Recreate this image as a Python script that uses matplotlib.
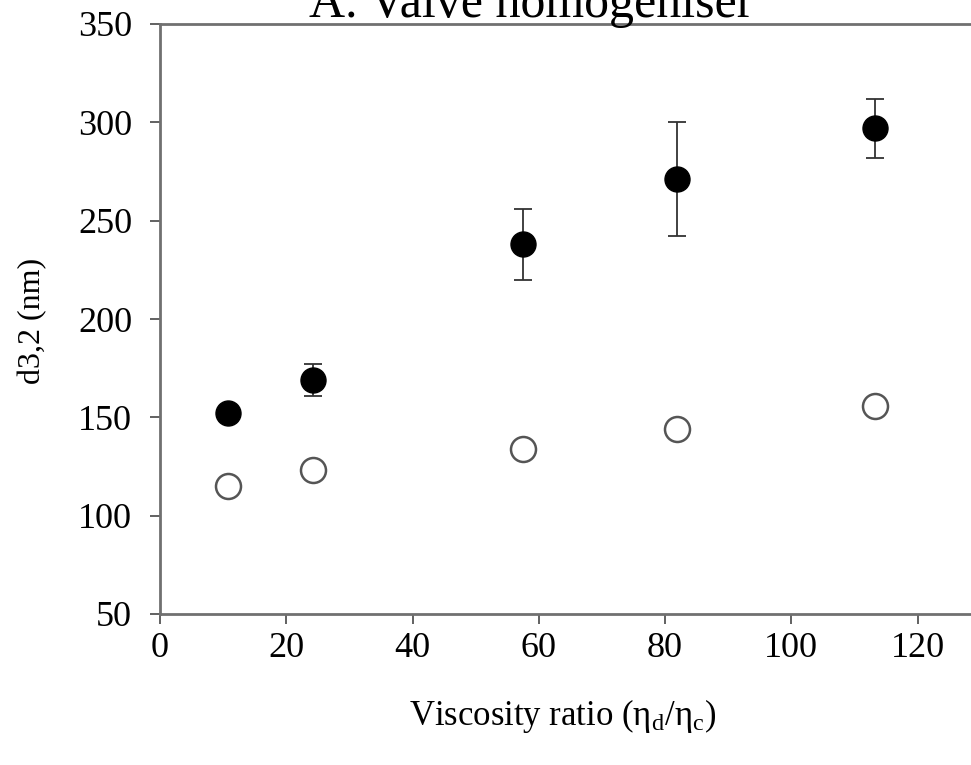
# d3,2 vs viscosity ratio, valve homogeniser

import numpy as np
import matplotlib.pyplot as plt

plt.rcParams['font.family'] = ['Liberation Serif', 'DejaVu Serif']
plt.rcParams['mathtext.fontset'] = 'custom'
plt.rcParams['mathtext.rm'] = 'Liberation Serif'
plt.rcParams['mathtext.it'] = 'Liberation Serif'

# Data
visc_ratio = [10.8, 24.2, 57.5, 81.9, 113.3]
d32_filled = [152, 169, 238, 271, 297]
d32_filled_err = [0, 8, 18, 29, 15]
d32_open = [115, 123, 134, 144, 156]

xticks = [0, 20, 40, 60, 80, 100, 120]
yticks = [50, 100, 150, 200, 250, 300, 350]

W, H = 971, 765
fig = plt.figure(figsize=(W/100, H/100), dpi=100)
# axes frame in pixels: left 160, top 24, bottom 614 (right side is cropped)
ax = fig.add_axes([160/W, 1-614/H, (W-160)/W, (614-24)/H])

ax.errorbar(visc_ratio, d32_filled, yerr=d32_filled_err, fmt='o',
            color='black', markersize=18, ecolor='#333333',
            elinewidth=1.3, capsize=6.5, capthick=1.3, zorder=3)
ax.plot(visc_ratio, d32_open, 'o', markersize=18, markerfacecolor='white',
        markeredgecolor='#555555', markeredgewidth=1.8, zorder=3)

ax.set_xlim(0, (W-160)/(917.5-160)*120)
ax.set_ylim(50, 350)
ax.set_xticks(xticks)
ax.set_yticks(yticks)
ax.tick_params(direction='out', length=7, width=1.3, colors='#555555',
               labelsize=26, labelcolor='black')
ax.tick_params(axis='y', pad=13)
ax.tick_params(axis='x', pad=6)

for s in ['left', 'bottom', 'top']:
    ax.spines[s].set_color('#707070')
    ax.spines[s].set_linewidth(2)
ax.spines['right'].set_visible(False)

fig.text(563/W, 1-725/H, r'Viscosity ratio ($\mathrm{\eta_d/\eta_c}$)',
         fontsize=25, ha='center', va='baseline')
fig.text(33/W, 1-321/H, 'd3,2 (nm)', fontsize=23, rotation=90,
         ha='center', va='center')

fig.text(531/W, 1-17/H, 'A. Valve homogeniser', fontsize=36,
         ha='center', va='baseline')

fig.savefig('out.png', dpi=100)
